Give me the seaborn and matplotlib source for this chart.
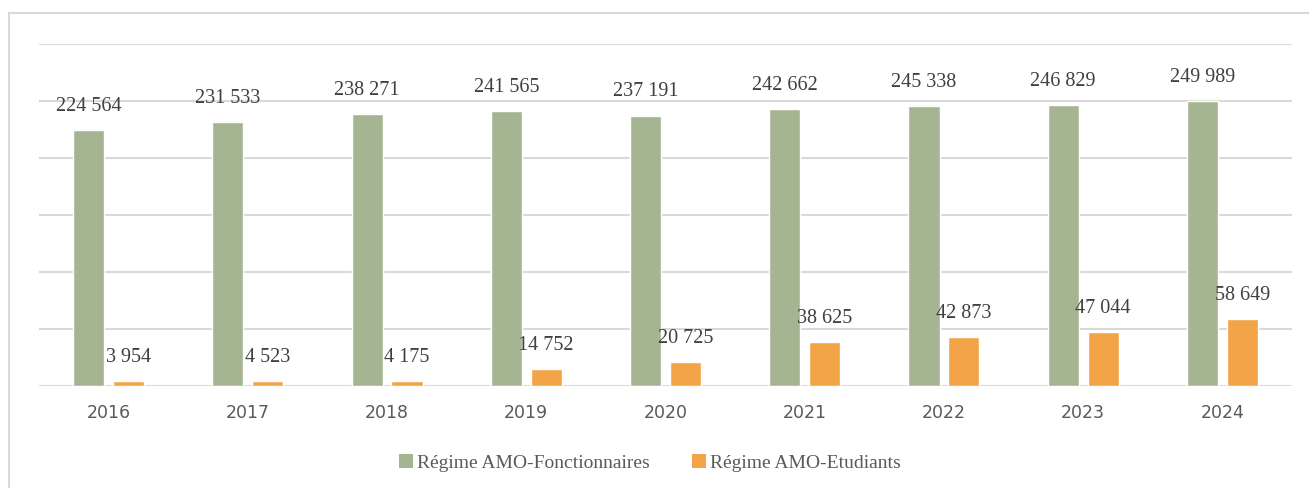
import matplotlib
matplotlib.use("Agg")
import matplotlib.pyplot as plt
import seaborn as sns
import pandas as pd
from matplotlib.patches import Rectangle, Patch

years = ["2016", "2017", "2018", "2019", "2020", "2021", "2022", "2023", "2024"]
fonctionnaires = [224564, 231533, 238271, 241565, 237191, 242662, 245338, 246829, 249989]
etudiants = [3954, 4523, 4175, 14752, 20725, 38625, 42873, 47044, 58649]
series_names = ["Régime AMO-Fonctionnaires", "Régime AMO-Etudiants"]
colors = ["#A5B592", "#F3A447"]

df = pd.DataFrame({
    "year": years * 2,
    "value": fonctionnaires + etudiants,
    "series": [series_names[0]] * len(years) + [series_names[1]] * len(years),
})

sns.set_theme(style="white")
fig = plt.figure(figsize=(13.09, 4.88), dpi=100)
ax = fig.add_axes([39 / 1309, 1 - 386 / 488, (1292 - 39) / 1309, (386 - 44) / 488])

sns.barplot(data=df, x="year", y="value", hue="series", palette=colors,
            width=0.573, gap=0.22, ax=ax, legend=False, saturation=1)

ax.set_ylim(0, 300000)
ax.set_xlim(-0.5, len(years) - 0.5)
ax.set_yticks(range(0, 300001, 50000))
ax.yaxis.grid(True, color="#D9D9D9", linewidth=1.5)
ax.set_axisbelow(True)
ax.set_yticklabels([])
ax.tick_params(axis="y", length=0)
ax.tick_params(axis="x", length=0, pad=13)
for s in ["top", "right", "left", "bottom"]:
    ax.spines[s].set_visible(False)
ax.set_xlabel("")
ax.set_ylabel("")
for lbl in ax.get_xticklabels():
    lbl.set_fontfamily("DejaVu Sans")
    lbl.set_fontsize(12.5)
    lbl.set_color("#595959")

def fmt(v):
    return f"{v:,}".replace(",", " ")

for cont in ax.containers:
    for bar in cont:
        h = bar.get_height()
        ax.annotate(fmt(int(round(h))), (bar.get_x() + bar.get_width() / 2, h),
                    xytext=(0, 17), textcoords="offset points", ha="center", va="center",
                    fontsize=14.5, family="Liberation Serif", color="#404040")

# outer border
fig.patches.append(Rectangle((9 / 1309, -0.1), 1.2, 1 - 13 / 488 + 0.1,
                             transform=fig.transFigure, fill=False,
                             edgecolor="#D9D9D9", linewidth=1.5))

handles = [Patch(facecolor=c, edgecolor="none") for c in colors]
fig.legend(handles, series_names, loc="center", bbox_to_anchor=(650 / 1309, 1 - 463 / 488),
           ncol=2, frameon=False, prop={"family": "Liberation Serif", "size": 14},
           labelcolor="#595959", handlelength=0.7, handleheight=0.7,
           handletextpad=0.2, columnspacing=2.2)

fig.savefig("out.png", dpi=100)
